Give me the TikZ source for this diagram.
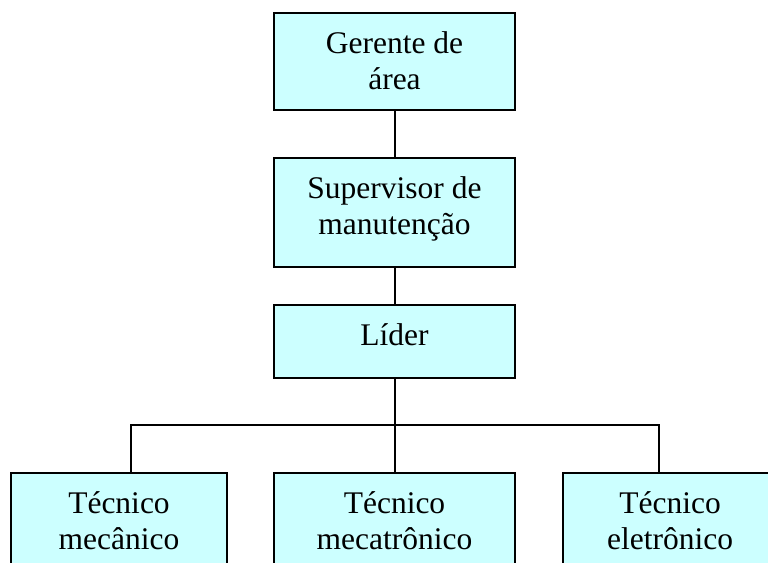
\documentclass[tikz,border=0pt]{standalone}
\usepackage{fontspec}
\setmainfont{Liberation Serif}
\usetikzlibrary{positioning}
\definecolor{ciano}{HTML}{CCFFFF}
\newcommand{\caixatxt}[2]{\parbox[c][#1][t]{200pt}{\centering\rule{0pt}{40pt}#2}}

\begin{document}
\begin{tikzpicture}[x=1pt, y=-1pt,
    caixa/.style={rectangle, draw=black, line width=2pt, fill=ciano, inner sep=0pt, font=\fontsize{31.5}{36}\selectfont},
    liga/.style={draw=black, line width=2pt}]
\useasboundingbox (0,0) rectangle (768,562);
\clip (0,0) rectangle (768,562);

\node[caixa, minimum width=241pt] (ger) at (394.5, 61.5) {\caixatxt{97pt}{Gerente de\\área}};
\node[caixa, minimum width=241pt] (sup) at (394.5, 212.5) {\caixatxt{109pt}{Supervisor de\\manutenção}};
\node[caixa, minimum width=241pt] (lid) at (394.5, 341.5) {\caixatxt{73pt}{Líder}};
\node[caixa, minimum width=216pt] (mec) at (119, 521.5) {\caixatxt{97pt}{Técnico\\mecânico}};
\node[caixa, minimum width=241pt] (mat) at (394.5, 521.5) {\caixatxt{97pt}{Técnico\\mecatrônico}};
\node[caixa, minimum width=214pt] (ele) at (670, 521.5) {\caixatxt{97pt}{Técnico\\eletrônico}};
\coordinate (bus) at (394.5, 425);

\draw[liga] (ger) -- (sup);
\draw[liga] (sup) -- (lid);
\draw[liga] (lid) -- (bus);
\draw[liga] (bus) -| ([xshift=12pt]mec.north);
\draw[liga] (bus) -- (mat);
\draw[liga] (bus) -| ([xshift=-11pt]ele.north);
\end{tikzpicture}
\end{document}
